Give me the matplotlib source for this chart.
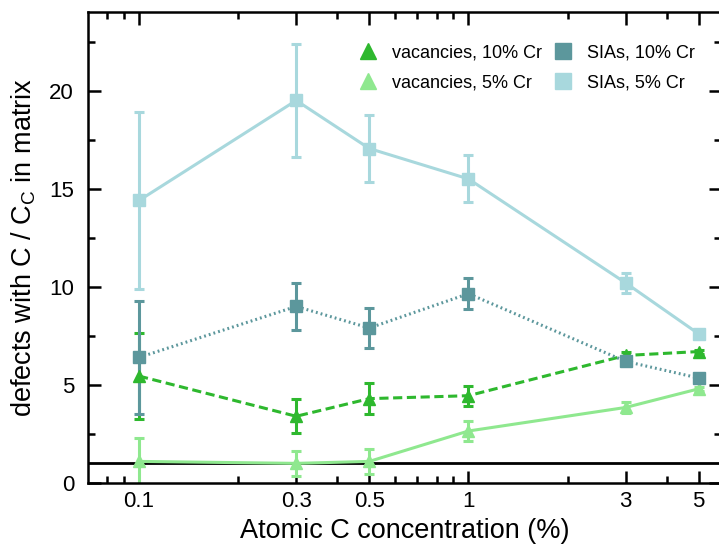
import matplotlib
matplotlib.use("Agg")
import matplotlib.pyplot as plt
from matplotlib.lines import Line2D
from matplotlib.ticker import FixedLocator, NullFormatter, MultipleLocator

plt.rcParams['font.family'] = ['Liberation Sans', 'DejaVu Sans']
plt.rcParams['mathtext.fontset'] = 'custom'
plt.rcParams['mathtext.rm'] = 'Liberation Sans'

conc = [0.1, 0.3, 0.5, 1, 3, 5]
xtick_labels = ["0.1", "0.3", "0.5", "1", "3", "5"]

sia_5 = [14.4, 19.5, 17.05, 15.5, 10.2, 7.6]
sia_5_err = [4.5, 2.9, 1.7, 1.2, 0.5, 0.1]

sia_10 = [6.4, 9.0, 7.9, 9.65, 6.2, 5.35]
sia_10_err = [2.9, 1.2, 1.0, 0.8, 0.2, 0.1]

vac_10 = [5.45, 3.4, 4.3, 4.45, 6.5, 6.7]
vac_10_err = [2.2, 0.87, 0.8, 0.5, 0.2, 0.1]

vac_5 = [1.1, 1.0, 1.1, 2.65, 3.85, 4.8]
vac_5_err = [1.2, 0.65, 0.65, 0.5, 0.3, 0.1]

c_vac10 = "#2eb82e"
c_vac5 = "#8fe88f"
c_sia10 = "#5c979c"
c_sia5 = "#a8d8dd"

series = [
    # values, errors, colour, marker, linestyle, label
    (vac_5, vac_5_err, c_vac5, "^", "-", "vacancies, 5% Cr"),
    (vac_10, vac_10_err, c_vac10, "^", (0, (3, 1.5)), "vacancies, 10% Cr"),
    (sia_10, sia_10_err, c_sia10, "s", (0, (0.6, 1.0)), "SIAs, 10% Cr"),
    (sia_5, sia_5_err, c_sia5, "s", "-", "SIAs, 5% Cr"),
]

fig = plt.figure(figsize=(7.19, 5.53), dpi=100)
ax = fig.add_axes([0.1224, 0.1266, 0.8806, 0.8514])

ax.axhline(1.0, color="black", lw=2.0, zorder=1)

# error bars first, then connecting lines and markers on top
for i, (vals, errs, col, mk, ls, lab) in enumerate(series):
    ax.errorbar(conc, vals, yerr=errs, color=col, fmt="none", elinewidth=2.2,
                capsize=3.5, capthick=2.2, zorder=2 + i * 0.1)
for i, (vals, errs, col, mk, ls, lab) in enumerate(series):
    ax.plot(conc, vals, color=col, ls=ls, lw=2.2, marker=mk, markersize=9,
            zorder=3 + i * 0.1)

ax.set_xscale("log")
ax.set_xlim(0.07, 5.85)
ax.set_ylim(0, 24)

ax.xaxis.set_major_locator(FixedLocator(conc))
ax.set_xticklabels(xtick_labels)
ax.xaxis.set_minor_locator(FixedLocator([0.08, 0.09, 0.2, 0.4, 0.6, 0.7, 0.8, 0.9, 2, 4]))
ax.xaxis.set_minor_formatter(NullFormatter())
ax.yaxis.set_major_locator(MultipleLocator(5))
ax.yaxis.set_minor_locator(MultipleLocator(2.5))

ax.tick_params(which="both", direction="in", top=True, right=True, width=1.8, labelsize=16)
ax.tick_params(axis="x", pad=6)
ax.tick_params(axis="y", pad=10)
ax.tick_params(which="major", length=9)
ax.tick_params(which="minor", length=5)
for s in ax.spines.values():
    s.set_linewidth(1.8)

ax.set_xlabel("Atomic C concentration (%)", fontsize=19.5, labelpad=4)
ax.set_ylabel(r"defects with C / C$_\mathregular{C}$ in matrix", fontsize=19.5, labelpad=8)

# legend: markers only, two columns (vacancies | SIAs)
legend_order = [1, 0, 2, 3]
handles = [Line2D([], [], color=series[i][2], marker=series[i][3], ls="none", markersize=12)
           for i in legend_order]
labels = [series[i][5] for i in legend_order]
fig.legend(handles, labels, ncol=2, loc="upper left",
           bbox_to_anchor=(350 / 719, 1 - 35 / 553), frameon=False, borderpad=0,
           fontsize=13, handlelength=1.0, handletextpad=0.8, columnspacing=0.7,
           labelspacing=0.75)

fig.savefig("out.png", dpi=100)
